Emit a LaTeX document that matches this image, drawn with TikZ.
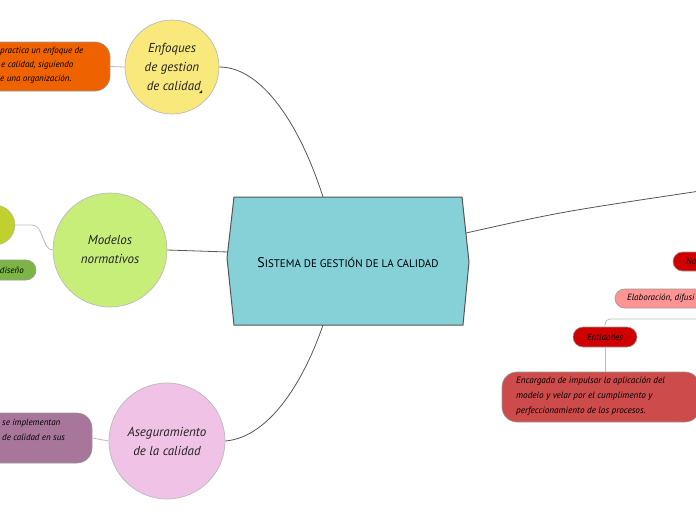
\documentclass[tikz,border=0pt]{standalone}
\usepackage{fontspec}
\newfontfamily\hand{PT Sans}
\usetikzlibrary{shapes.geometric}
\definecolor{hexfill}{HTML}{86D1D8}
\definecolor{hexline}{HTML}{555555}
\definecolor{yel}{HTML}{F9E87C}
\definecolor{org}{HTML}{EE6300}
\definecolor{lgreen}{HTML}{C8EE7A}
\definecolor{olive}{HTML}{BFD02F}
\definecolor{dgreen}{HTML}{7CB545}
\definecolor{pinkc}{HTML}{F0C2E6}
\definecolor{mauve}{HTML}{A8759B}
\definecolor{redb}{HTML}{D00000}
\definecolor{salmon}{HTML}{FF9494}
\definecolor{bigred}{HTML}{CD4B4B}
\definecolor{thin}{HTML}{BBBBBB}
\definecolor{txt}{HTML}{222222}
\tikzset{
  bubble/.style={circle, draw=thin, line width=0.7pt, align=center, font=\hand\itshape\fontsize{13}{19}\selectfont, text=txt, inner sep=0pt},
  pill/.style={rectangle, draw=black!40, line width=0.6pt, inner sep=0pt},
  small/.style={font=\hand\itshape\fontsize{9}{10}\selectfont, text=black, inner sep=0pt},
  main/.style={draw=hexline, line width=0.8pt},
  sub/.style={draw=thin, line width=0.8pt},
}
\begin{document}
\begin{tikzpicture}[x=1pt,y=-1pt]
\useasboundingbox (0,0) rectangle (696,520);
\clip (0,0) rectangle (696,520);
% central hexagon
\fill[hexfill] (234,197) -- (462,197) -- (469,262) -- (463,325) -- (234,325) -- (227,258) -- cycle;
\draw[hexline, line width=1pt] (234,197) -- (462,197) -- (469,262) -- (463,325) -- (234,325) -- (227,258) -- cycle;
\node[font=\hand\fontsize{11}{12}\selectfont, text=black] (hex) at (348,263) {{\fontsize{14}{12}\selectfont S}ISTEMA DE GESTIÓN DE LA CALIDAD};
\coordinate (hexT) at (323,197);
\coordinate (hexB) at (323,325);
\coordinate (hexL) at (228,252);
\coordinate (hexR) at (466,233);
\coordinate (rEnd) at (700,191);

% circles
\node[bubble, fill=yel, minimum size=94pt] (enf) at (172,67) {Enfoques\\de gestion\\\ de calidad};
\fill[txt] (199,93) -- (202,93) -- (202,90) -- cycle;
\node[bubble, fill=lgreen, minimum size=114pt] (mod) at (110,250) {Modelos\\normativos};
\node[bubble, fill=pinkc, minimum size=116pt] (ase) at (167,441) {Aseguramiento\\de la calidad};
\node[circle, fill=olive, draw=thin, minimum size=40pt] (oli) at (-5,225) {};

% left boxes
\node[pill, fill=org, minimum width=140pt, minimum height=49pt, rounded corners=15pt] (orgb) at (40,66.5) {};
\node[small, anchor=west] (o1) at (0,51) {practica un enfoque de};
\node[small, anchor=west] (o2) at (1,65) {e calidad, siguiendo};
\node[small, anchor=west] (o3) at (0,79.5) {e una organización.};
\node[pill, fill=dgreen, minimum width=76pt, minimum height=20pt, rounded corners=10pt] (dis) at (-2,270) {};
\node[small, anchor=east] (d1) at (24,270) {diseño};
\node[pill, fill=mauve, minimum width=122pt, minimum height=50pt, rounded corners=15pt] (mau) at (31,438) {};
\node[small, anchor=west] (m1) at (2,423) {se implementan};
\node[small, anchor=west] (m2) at (2,437.5) {de calidad en sus};

% right boxes
\node[pill, fill=redb, minimum width=67pt, minimum height=19pt, rounded corners=9.5pt] (nob) at (706.5,261.5) {};
\node[small, anchor=west] (n1) at (686,261.5) {No};
\node[pill, fill=salmon, minimum width=145pt, minimum height=19pt, rounded corners=9.5pt] (ela) at (687.5,298.5) {};
\node[small, anchor=west] (e1) at (627,298.5) {Elaboración, difusi};
\node[pill, fill=redb, minimum width=64pt, minimum height=20pt, rounded corners=10pt, small] (ent) at (605,337) {Entidades};
\node[pill, fill=bigred, minimum width=198pt, minimum height=50pt, rounded corners=15pt] (enc) at (601,397) {};
\node[small, anchor=west, align=left, font=\hand\itshape\fontsize{9.2}{15}\selectfont] (e2) at (516,396.5) {Encargada de impulsar la aplicación del\\modelo y velar por el cumplimento y\\perfeccionamiento de los procesos.};

% connectors
\draw[main] (enf.east) .. controls (262,67) and (300,125) .. (hexT);
\draw[main] (mod.east) -- (hexL);
\draw[main] (ase.east) .. controls (272,437) and (306,375) .. (hexB);
\draw[main] (hexR) .. controls (560,212) .. (rEnd);
\coordinate (rEnd2) at (700,319);
\draw[sub] (orgb.east) -- (enf.west);
\draw[sub] (mau.east) -- (ase.west);
\draw[sub] (oli.east) -- (32,225) .. controls (44,225) and (42,250) .. (mod.west);
\draw[sub, rounded corners=5pt] (ent.north) -- (605,319) -- (rEnd2);
\draw[sub] (ent.south) -- (enc.north -| ent.south);
\end{tikzpicture}
\end{document}
